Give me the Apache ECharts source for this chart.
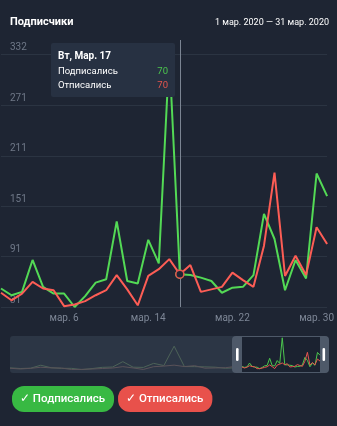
<!DOCTYPE html>
<html><head><meta charset="utf-8">
<script src="https://cdn.jsdelivr.net/npm/echarts@6/dist/echarts.min.js"></script>
<style>html,body{margin:0;padding:0;background:#1e2533;}#c{width:337px;height:426px;}</style>
</head><body><div id="c"></div>
<script>
const titleText = 'Подписчики';
const rangeText = '1 мар. 2020 — 31 мар. 2020';
const dates = ['2020-02-29','2020-03-01','2020-03-02','2020-03-03','2020-03-04','2020-03-05','2020-03-06','2020-03-07','2020-03-08','2020-03-09','2020-03-10','2020-03-11','2020-03-12','2020-03-13','2020-03-14','2020-03-15','2020-03-16','2020-03-17','2020-03-18','2020-03-19','2020-03-20','2020-03-21','2020-03-22','2020-03-23','2020-03-24','2020-03-25','2020-03-26','2020-03-27','2020-03-28','2020-03-29','2020-03-30','2020-03-31'];
const subscribed = [53,45,49,87,55,47,47,31,44,60,64,133,62,59,111,83,332,70,69,66,62,48,54,55,69,142,112,51,87,65,190,163];
const unsubscribed = [48,39,47,61,53,51,32,34,38,45,51,69,52,33,68,76,88,70,81,49,52,55,72,63,55,104,191,68,92,69,126,106];
const seriesNames = ['Подписались','Отписались'];
const yTicks = [31,91,151,211,271,332];
const xLabelDays = ['2020-03-06','2020-03-14','2020-03-22','2020-03-30'];
const tooltipIndex = 17;
const weekdays = ['Вс','Пн','Вт','Ср','Чт','Пт','Сб'];
const monthsShort = ['Янв.','Фев.','Мар.','Апр.','Май','Июн.','Июл.','Авг.','Сен.','Окт.','Ноя.','Дек.'];
const monthsLower = ['янв.','фев.','мар.','апр.','мая','июн.','июл.','авг.','сен.','окт.','ноя.','дек.'];

const GREEN = '#4cc64e', RED = '#e6554e', BG = '#1e2533';
const FONT = 'Roboto';

function parseD(s){ const p = s.split('-').map(Number); return new Date(p[0], p[1]-1, p[2]); }

const chart = echarts.init(document.getElementById('c'), null, {renderer:'canvas'});
const option = {
  backgroundColor: BG,
  animation: false,
  textStyle: {fontFamily: FONT},
  title: [
    {text: titleText, left: 5, top: 12, textStyle:{color:'#ffffff', fontSize: 11, fontWeight:'bold', fontFamily: FONT}},
    {text: rangeText, right: 3, top: 13, textStyle:{color:'#ffffff', fontSize: 9, fontWeight:'normal', fontFamily: FONT}}
  ],
  legend: {
    left: 1, top: 381, itemGap: -2, itemWidth: 0, itemHeight: 0, icon: 'rect',
    selectedMode: false,
    formatter: '✓ {name}',
    data: [
      {name: seriesNames[0], textStyle:{backgroundColor:'#38b943'}},
      {name: seriesNames[1], textStyle:{backgroundColor:'#e8514b'}}
    ],
    textStyle: {color:'#ffffff', fontSize: 11.5, fontWeight: 500, fontFamily: FONT, borderRadius: 12, padding:[6,9,6,8], lineHeight: 14}
  },
  tooltip: {
    trigger: 'axis',
    alwaysShowContent: true,
    transitionDuration: 0,
    position: [51, 43],
    backgroundColor: '#273142',
    borderWidth: 0,
    padding: [6, 7, 5, 7],
    extraCssText: 'box-shadow:none;border-radius:2px;width:110px;',
    textStyle: {color:'#ffffff', fontSize: 10, fontFamily: FONT},
    axisPointer: {type:'line', lineStyle:{color:'#7b8492', width:1, type:'solid'}, z: 1},
    formatter: function(params){
      const p0 = params.find(p => p.seriesIndex === 0);
      if (!p0) return '';
      const d = parseD(dates[p0.dataIndex]);
      let html = '<div style="font-weight:bold;font-size:10px;line-height:14px;margin-bottom:1px">' + weekdays[d.getDay()] + ', ' + monthsShort[d.getMonth()] + ' ' + d.getDate() + '</div>';
      params.filter(p => p.seriesIndex < 2).forEach(p => {
        const c = p.seriesIndex === 0 ? GREEN : RED;
        html += '<div style="display:flex;justify-content:space-between;font-size:9.5px;line-height:14px"><span>' + p.seriesName + '</span><span style="color:' + c + '">' + p.value + '</span></div>';
      });
      return html;
    }
  },
  grid: [
    {left: 1, right: 9, top: 40, height: 267, containLabel: false},
    {left: 10, width: 318, top: 337, height: 35},
    {left: 242, width: 78, top: 337, height: 35}
  ],
  xAxis: [
    {type:'category', gridIndex:0, data: dates, boundaryGap: false,
     axisLine:{show:false}, axisTick:{show:false},
     axisLabel:{color:'#7d8696', fontSize: 10, margin: 6, fontFamily: FONT,
       interval: function(i){ return xLabelDays.indexOf(dates[i]) >= 0; },
       formatter: function(v){ const d = parseD(v); return monthsLower[d.getMonth()] + ' ' + d.getDate(); }},
     splitLine:{show:false}},
    {type:'category', gridIndex:1, data: dates, boundaryGap:false, show:false, axisPointer:{show:false}},
    {type:'category', gridIndex:2, data: dates, boundaryGap:false, show:false, axisPointer:{show:false}}
  ],
  yAxis: [
    {type:'value', gridIndex:0, min: 31, max: 349,
     axisLine:{show:false}, axisTick:{show:false, customValues: yTicks},
     axisLabel:{inside:true, margin: 9, color:'#6f7888', fontSize: 10, fontFamily: FONT, verticalAlign:'bottom', padding:[0,0,2,0], customValues: yTicks,
       formatter: function(v){ return String(Math.round(v)); }},
     splitLine:{show:true, lineStyle:{color:'#2b3442', width:1}}},
    {type:'value', gridIndex:1, min:0, max:450, show:false},
    {type:'value', gridIndex:2, min:0, max:340, show:false}
  ],
  graphic: [
    {type:'rect', z: 0, shape:{x:10, y:336, width:318, height:37, r:3}, style:{fill:'#2c3645'}, silent:true},
    {type:'rect', z: 5, shape:{x:232, y:336, width:97, height:37, r:4}, style:{fill:'#4e5969'}, silent:true},
    {type:'rect', z: 6, shape:{x:242, y:337, width:78, height:35}, style:{fill:'#1b2230'}, silent:true},
    {type:'rect', z: 20, shape:{x:236, y:348, width:2.6, height:13, r:1.3}, style:{fill:'#ffffff'}, silent:true},
    {type:'rect', z: 20, shape:{x:322.5, y:348, width:2.6, height:13, r:1.3}, style:{fill:'#ffffff'}, silent:true}
  ],
  series: [
    {name: seriesNames[0], type:'line', xAxisIndex:0, yAxisIndex:0, data: subscribed, showSymbol:false,
     symbol:'circle', symbolSize: 8, color: GREEN,
     lineStyle:{color: GREEN, width: 2}, itemStyle:{color: BG, borderColor: GREEN, borderWidth: 1.5},
     emphasis:{scale:false, lineStyle:{width:2}}, z: 3},
    {name: seriesNames[1], type:'line', xAxisIndex:0, yAxisIndex:0, data: unsubscribed, showSymbol:false,
     symbol:'circle', symbolSize: 8, color: RED,
     lineStyle:{color: RED, width: 2}, itemStyle:{color: BG, borderColor: RED, borderWidth: 1.5},
     emphasis:{scale:false, lineStyle:{width:2}}, z: 4},
    {name: seriesNames[0] + ' preview', type:'line', xAxisIndex:1, yAxisIndex:1, data: subscribed, showSymbol:false, silent:true,
     lineStyle:{color:'#4d6358', width:1}, z: 2, tooltip:{show:false}},
    {name: seriesNames[1] + ' preview', type:'line', xAxisIndex:1, yAxisIndex:1, data: unsubscribed, showSymbol:false, silent:true,
     lineStyle:{color:'#5a5259', width:1}, z: 2, tooltip:{show:false}},
    {name: seriesNames[0] + ' window', type:'line', xAxisIndex:2, yAxisIndex:2, data: subscribed, showSymbol:false, silent:true,
     lineStyle:{color: GREEN, width:1}, z: 10, tooltip:{show:false}},
    {name: seriesNames[1] + ' window', type:'line', xAxisIndex:2, yAxisIndex:2, data: unsubscribed, showSymbol:false, silent:true,
     lineStyle:{color: RED, width:1}, z: 10, tooltip:{show:false}}
  ]
};
chart.setOption(option);
chart.dispatchAction({type:'showTip', seriesIndex:0, dataIndex: tooltipIndex});
</script>
</body></html>
